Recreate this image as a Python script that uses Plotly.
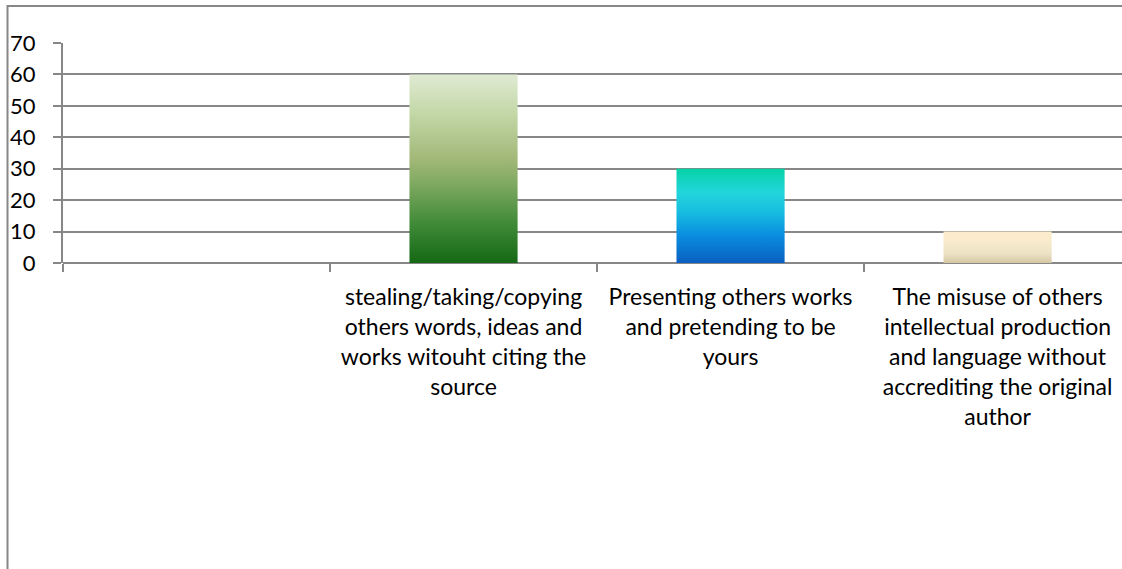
import plotly.graph_objects as go

# Survey responses: definitions of plagiarism (percent)
categories = [
    "",
    "stealing/taking/copying<br>others words, ideas and<br>works witouht citing the<br>source",
    "Presenting others works<br>and pretending to be<br>yours",
    "The misuse of others<br>intellectual production<br>and language without<br>accrediting the original<br>author",
]
values = [0, 60, 30, 10]
y_ticks = [0, 10, 20, 30, 40, 50, 60, 70]

# Vertical gradient for each bar (bottom -> top)
gradients = [
    None,
    [[0.0, "#156815"], [0.2, "#3d8936"], [0.42, "#7fa960"], [0.55, "#a2b878"],
     [0.8, "#c4d8a9"], [1.0, "#e0ead3"]],
    [[0.0, "#0a5fc1"], [0.3, "#0a8fe0"], [0.55, "#17bfe0"], [0.75, "#22d5dc"],
     [1.0, "#06d2a5"]],
    [[0.0, "#d6c8a4"], [0.3, "#ece2c6"], [0.7, "#f9ebcc"], [1.0, "#fdeccb"]],
]

GRID = "#878787"
FONT = "Lato, Carlito, Calibri, sans-serif"
half_w = 0.2025

fig = go.Figure()

for i, (v, cs) in enumerate(zip(values, gradients)):
    if not v or cs is None:
        continue
    fig.add_trace(go.Scatter(
        x=[i - half_w, i + half_w, i + half_w, i - half_w, i - half_w],
        y=[0, 0, v, v, 0],
        mode="lines",
        line=dict(width=0),
        fill="toself",
        fillgradient=dict(type="vertical", colorscale=cs, start=0, stop=v),
        hoverinfo="skip",
        showlegend=False,
    ))

fig.update_layout(
    width=1122,
    height=569,
    margin=dict(l=63, r=0, t=43, b=306),
    paper_bgcolor="white",
    plot_bgcolor="white",
    font=dict(family=FONT, size=22, color="#000000"),
    showlegend=False,
    xaxis=dict(
        range=[-0.5, 3.466],
        tickvals=list(range(len(categories))),
        ticktext=categories,
        ticks="",
        showgrid=False,
        zeroline=False,
        showline=False,
        minor=dict(ticks="outside", tick0=-0.5, dtick=1, ticklen=8,
                   tickwidth=2, tickcolor=GRID, showgrid=False),
        ticklabelstandoff=18,
        tickfont=dict(family=FONT, size=23),
        fixedrange=True,
    ),
    yaxis=dict(
        range=[0, 70],
        tickvals=y_ticks,
        ticks="outside",
        ticklen=8,
        tickwidth=2,
        tickcolor=GRID,
        showgrid=True,
        gridcolor=GRID,
        gridwidth=2,
        zeroline=True,
        zerolinecolor=GRID,
        zerolinewidth=2,
        showline=True,
        linecolor=GRID,
        linewidth=2,
        ticklabelstandoff=13,
        tickfont=dict(family=FONT, size=22),
        fixedrange=True,
    ),
)

# Chart-area border (extends past the visible page on the right and bottom)
fig.add_shape(
    type="rect", xref="paper", yref="paper",
    x0=-0.0524, x1=1.2, y0=-1.6, y1=1.168,
    line=dict(color=GRID, width=2), fillcolor="rgba(0,0,0,0)",
    layer="below",
)

fig.write_html("out.html")
